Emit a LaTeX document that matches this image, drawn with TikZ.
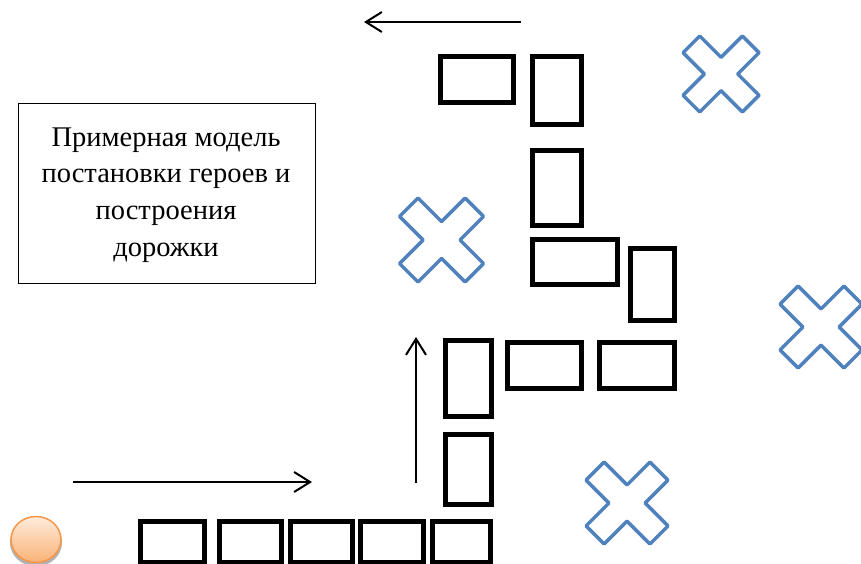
\documentclass[tikz,border=0pt]{standalone}
\usepackage{fontspec}
\setmainfont{Liberation Serif}
\usetikzlibrary{arrows.meta}
\definecolor{crossblue}{RGB}{79,129,189}
\definecolor{orangeedge}{RGB}{247,150,70}
\definecolor{orangelight}{RGB}{254,236,220}
\definecolor{orangedark}{RGB}{249,178,118}
\tikzset{
  brick/.style={draw=black, line width=5pt, fill=white},
  mark cross/.style={draw=crossblue, line width=3.5pt, line join=round},
  moveline/.style={draw=black, line width=2pt, -{Straight Barb[length=16pt,width=20pt,line width=2pt]}},
  infobox/.style={align=center, inner sep=0pt,
    font=\fontsize{28.5pt}{36.7pt}\selectfont},
}
\newcommand{\xcrossshape}[4]{% name, cx, cy, s
  \pgfmathsetmacro{\sv}{#4}\pgfmathsetmacro{\dv}{0.44*#4}\pgfmathsetmacro{\ev}{#4-\dv}
  \coordinate (#1) at (#2,#3);
  \draw[mark cross] (#2,#3) ++(0,-\dv) -- ++(\ev,-\ev) -- ++(\dv,\dv) -- ++(-\ev,\ev)
     -- ++(\ev,\ev) -- ++(-\dv,\dv) -- ++(-\ev,-\ev) -- ++(-\ev,\ev) -- ++(-\dv,-\dv)
     -- ++(\ev,-\ev) -- ++(-\ev,-\ev) -- ++(\dv,-\dv) -- cycle;
}
\begin{document}
\begin{tikzpicture}[x=1pt,y=-1pt]
\useasboundingbox (0,0) rectangle (861,564);
\clip (0,0) rectangle (861,564);

% info box
\draw[line width=1pt] (18.5,103.5) rectangle (315.5,283.5);
\node[infobox] (info) at (166,195) {Примерная модель\\постановки героев и\\построения\\дорожки};

% bricks (outer edges measured, stroke centred inset by 2.5)
\newcommand{\brk}[5]{\draw[brick] (#2+2.5,#3+2.5) rectangle (#4-2.5,#5-2.5) coordinate (#1);}
\brk{b1}{438}{54}{516}{105}
\brk{b2}{530}{54}{584}{127}
\brk{b3}{530}{148}{584}{228}
\brk{b4}{530}{237}{620}{287}
\brk{b5}{628}{246}{677}{323}
\brk{b6}{505}{340}{584}{391}
\brk{b7}{597}{340}{677}{391}
\brk{b8}{443}{338}{494}{419}
\brk{b9}{443}{432}{494}{507}
\brk{r1}{138}{519}{207}{564.5}
\brk{r2}{217}{519}{284}{564.5}
\brk{r3}{288}{519}{355}{564.5}
\brk{r4}{358}{519}{426}{564.5}
\brk{r5}{430}{519}{493}{564.5}

% crosses
\xcrossshape{c1}{721}{74}{38}
\xcrossshape{c2}{441.5}{240}{42}
\xcrossshape{c3}{821}{327}{41}
\xcrossshape{c4}{627}{503}{41}

% arrows
\coordinate (a1s) at (521,22);  \coordinate (a1e) at (364,22);
\coordinate (a2s) at (416,483); \coordinate (a2e) at (416,337);
\coordinate (a3s) at (73,482);  \coordinate (a3e) at (312,482);
\draw[moveline] (a1s) -- (a1e);
\draw[moveline] (a2s) -- (a2e);
\draw[moveline] (a3s) -- (a3e);

% hero (orange circle)
\fill[gray!60] (36,542.5) ellipse (26 and 24);
\shade[top color=orangelight, bottom color=orangedark, draw=orangeedge, line width=1.5pt]
  (36,539.5) ellipse (25 and 23) coordinate (hero);
\end{tikzpicture}
\end{document}
